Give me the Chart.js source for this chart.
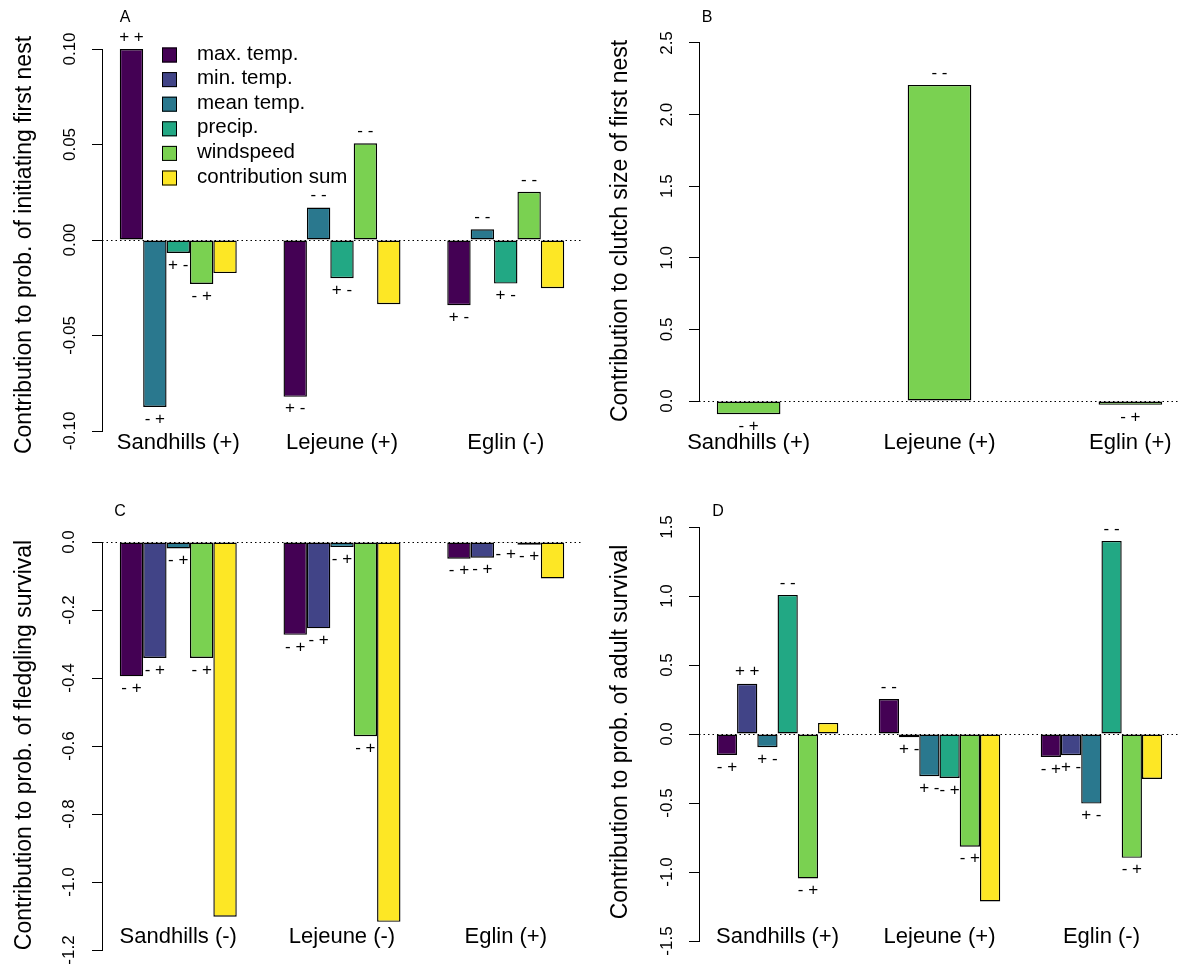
<!DOCTYPE html>
<html>
<head>
<meta charset="utf-8">
<script src="https://cdn.jsdelivr.net/npm/chart.js@4.4.1/dist/chart.umd.min.js"></script>
<style>
  html, body { margin: 0; padding: 0; background: #fff; overflow: hidden; }
  #page { position: relative; width: 1179px; height: 968px; overflow: hidden; background: #fff; }
  canvas { position: absolute; }
</style>
</head>
<body>
<div id="page">
  <canvas id="chartA" width="590" height="484" style="left:0px;top:0px"></canvas>
  <canvas id="chartB" width="600" height="484" style="left:590px;top:0px"></canvas>
  <canvas id="chartC" width="590" height="484" style="left:0px;top:484px"></canvas>
  <canvas id="chartD" width="600" height="484" style="left:590px;top:484px"></canvas>
</div>
<script>
const FONT = '"Liberation Sans", Arial, Helvetica, sans-serif';

// series shared by all panels (legend order)
const seriesNames = ['max. temp.', 'min. temp.', 'mean temp.', 'precip.', 'windspeed', 'contribution sum'];
const seriesColors = ['#440154', '#414487', '#2A788E', '#22A884', '#7AD151', '#FDE725'];

// --- A: prob. of initiating first nest ---
const sitesA = ['Sandhills (+)', 'Lejeune (+)', 'Eglin (-)'];
const maxTempA  = [0.1000, -0.0821, -0.0341];
const meanTempA = [-0.0874, 0.0170, 0.0056];
const precipA   = [-0.0068, -0.0200, -0.0228];
const windA     = [-0.0230, 0.0506, 0.0252];
const sumA      = [-0.0173, -0.0336, -0.0252];
const maxTempSignsA  = ['+ +', '+ -', '+ -'];
const meanTempSignsA = ['- +', '- -', '- -'];
const precipSignsA   = ['+ -', '+ -', '+ -'];
const windSignsA     = ['- +', '- -', '- -'];
const ticksA = [-0.10, -0.05, 0, 0.05, 0.10];
const tickLabelsA = ['-0.10', '-0.05', '0.00', '0.05', '0.10'];

// --- B: clutch size of first nest ---
const sitesB = ['Sandhills (+)', 'Lejeune (+)', 'Eglin (+)'];
const windB = [-0.092, 2.207, -0.027];
const windSignsB = ['- +', '- -', '- +'];
const ticksB = [0, 0.5, 1, 1.5, 2, 2.5];
const tickLabelsB = ['0.0', '0.5', '1.0', '1.5', '2.0', '2.5'];

// --- C: prob. of fledgling survival ---
const sitesC = ['Sandhills (-)', 'Lejeune (-)', 'Eglin (+)'];
const maxTempC  = [-0.395, -0.273, -0.049];
const minTempC  = [-0.341, -0.254, -0.046];
const meanTempC = [-0.019, -0.015, -0.002];
const windC     = [-0.341, -0.571, -0.008];
const sumC      = [-1.102, -1.117, -0.107];
const maxTempSignsC  = ['- +', '- +', '- +'];
const minTempSignsC  = ['- +', '- +', '- +'];
const meanTempSignsC = ['- +', '- +', '- +'];
const windSignsC     = ['- +', '- +', '- +'];
const ticksC = [-1.2, -1.0, -0.8, -0.6, -0.4, -0.2, 0];
const tickLabelsC = ['-1.2', '-1.0', '-0.8', '-0.6', '-0.4', '-0.2', '0.0'];

// --- D: prob. of adult survival ---
const sitesD = ['Sandhills (+)', 'Lejeune (+)', 'Eglin (-)'];
const maxTempD  = [-0.152, 0.253, -0.166];
const minTempD  = [0.364, -0.024, -0.154];
const meanTempD = [-0.096, -0.306, -0.504];
const precipD   = [1.008, -0.318, 1.399];
const windD     = [-1.047, -0.817, -0.897];
const sumD      = [0.080, -1.213, -0.326];
const maxTempSignsD  = ['- +', '- -', '- +'];
const minTempSignsD  = ['+ +', '+ -', '+ -'];
const meanTempSignsD = ['+ -', '+ -', '+ -'];
const precipSignsD   = ['- -', '- +', '- -'];
const windSignsD     = ['- +', '- +', '- +'];
const ticksD = [-1.5, -1.0, -0.5, 0, 0.5, 1.0, 1.5];
const tickLabelsD = ['-1.5', '-1.0', '-0.5', '0.0', '0.5', '1.0', '1.5'];

// zero line, y axis line, +/- labels, panel letter and legend
const decorPlugin = {
  id: 'decor',
  beforeDatasetsDraw(chart, args, opts) {
    const { ctx, chartArea } = chart;
    const yScale = chart.scales.y;
    const zero = Math.round(yScale.getPixelForValue(0) - 0.5) + 0.5;
    ctx.save();
    ctx.strokeStyle = '#000';
    ctx.lineWidth = 1;
    ctx.setLineDash([1.5, 3]);
    ctx.beginPath();
    ctx.moveTo(chartArea.left, zero);
    ctx.lineTo(chartArea.right, zero);
    ctx.stroke();

    // R style axis: the line only spans first to last tick
    ctx.setLineDash([]);
    const t = yScale.ticks;
    const x = Math.round(chartArea.left - 0.5) + 0.5;
    const y1 = Math.round(yScale.getPixelForValue(t[0].value) - 0.5) + 0.5;
    const y2 = Math.round(yScale.getPixelForValue(t[t.length - 1].value) - 0.5) + 0.5;
    ctx.beginPath();
    ctx.moveTo(x, Math.max(y1, y2) + 0.5);
    ctx.lineTo(x, Math.min(y1, y2) - 0.5);
    ctx.stroke();
    ctx.restore();
  },
  afterDatasetsDraw(chart, args, opts) {
    const ctx = chart.ctx;
    ctx.save();
    ctx.fillStyle = '#000';
    ctx.textAlign = 'center';
    ctx.textBaseline = 'middle';

    ctx.font = '17px ' + FONT;
    chart.data.datasets.forEach((ds, di) => {
      if (!ds.signs) return;
      const meta = chart.getDatasetMeta(di);
      meta.data.forEach((bar, i) => {
        const v = ds.data[i].y;
        const y = v >= 0 ? bar.y - 12 : bar.y + 12;
        ctx.fillText(ds.signs[i], bar.x, y);
      });
    });

    ctx.font = '16px ' + FONT;
    ctx.fillText(opts.letter, opts.letterX, opts.letterY);

    if (opts.legend) {
      const lg = opts.legend;
      ctx.font = '20.5px ' + FONT;
      ctx.textAlign = 'left';
      ctx.lineWidth = 1;
      ctx.strokeStyle = '#000';
      seriesNames.forEach((name, i) => {
        const cy = lg.y + i * lg.step;
        ctx.fillStyle = seriesColors[i];
        ctx.fillRect(lg.x, cy - 7.5, 15, 15);
        ctx.strokeRect(lg.x + 0.5, cy - 7, 14, 14);
        ctx.fillStyle = '#000';
        ctx.fillText(name, lg.x + 35, cy - 1);
      });
    }
    ctx.restore();
  }
};

function buildPanel(p) {
  const canvas = document.getElementById(p.id);
  const ctx = canvas.getContext('2d');
  const n = p.series.length;
  // barplot: n bars per site, 2 bar widths between sites, xlim widened by 4%
  const pad = 0.04 * (3 * n + 4);
  const half = (n / 2 + pad) / (n + 2);

  // value <-> page pixel mapping
  const [[v0, px0], [v1, px1]] = p.yCal;
  const valueAt = px => v0 + (px - px0) * (v1 - v0) / (px1 - px0);
  // chart area is placed so the centred axis title sits where it does in the figure
  const areaBottom = p.area.bottom;
  const areaTop = 2 * p.titleMid - areaBottom;

  ctx.font = '17px ' + FONT;
  const widest = Math.max(...p.tickLabels.map(t => ctx.measureText(t).width));
  const areaLeft = p.area.left - p.box.left;
  const tickLen = 10;

  return new Chart(ctx, {
    type: 'bar',
    data: {
      datasets: p.series.map(s => ({
        label: seriesNames[s.idx],
        data: s.values.map((v, i) => ({ x: i, y: v })),
        signs: s.signs,
        backgroundColor: seriesColors[s.idx],
        borderColor: '#000',
        borderWidth: 1.4,
        borderSkipped: false,
        categoryPercentage: n / (n + 2),
        barPercentage: 1,
        clip: false
      }))
    },
    options: {
      responsive: false,
      animation: false,
      devicePixelRatio: 1,
      events: [],
      layout: {
        padding: {
          left: 0,
          top: areaTop - p.box.top,
          right: p.box.left + p.box.width - p.area.right,
          bottom: 0
        }
      },
      plugins: {
        legend: { display: false },
        tooltip: { enabled: false },
        decor: {
          letter: p.letter,
          letterX: p.letterPos[0] - p.box.left,
          letterY: p.letterPos[1] - p.box.top,
          legend: p.legend || null
        }
      },
      scales: {
        x: {
          type: 'linear',
          min: -half,
          max: 2 + half,
          offset: false,
          grid: { display: false, drawTicks: false },
          border: { display: false },
          afterBuildTicks: sc => { sc.ticks = p.sites.map((_, i) => ({ value: i })); },
          afterFit: sc => { sc.height = p.box.top + p.box.height - areaBottom; },
          ticks: {
            autoSkip: false,
            minRotation: 0,
            maxRotation: 0,
            padding: p.nameCenter - areaBottom - 0.6 * 22,
            color: '#000',
            font: { family: FONT, size: 22 },
            callback: v => p.sites[v]
          }
        },
        y: {
          type: 'linear',
          min: valueAt(areaBottom),
          max: valueAt(areaTop),
          grid: { drawOnChartArea: false, drawTicks: true, tickLength: tickLen, color: '#000', lineWidth: 1 },
          border: { display: false },
          afterBuildTicks: sc => { sc.ticks = p.ticks.map(v => ({ value: v })); },
          afterFit: sc => { sc.width = areaLeft; },
          ticks: {
            autoSkip: false,
            minRotation: 90,
            maxRotation: 90,
            crossAlign: 'center',
            padding: areaLeft - (p.tickCenter - p.box.left) - tickLen - widest / 2,
            color: '#000',
            font: { family: FONT, size: 17 },
            callback: (v, i) => p.tickLabels[i]
          },
          title: {
            display: true,
            text: p.title,
            color: '#000',
            font: { family: FONT, size: 23 },
            padding: { top: p.titleCenter - p.box.left - 0.6 * 23, bottom: 0 }
          }
        }
      }
    },
    plugins: [decorPlugin]
  });
}

buildPanel({
  id: 'chartA', letter: 'A', letterPos: [125, 18],
  title: 'Contribution to prob. of initiating first nest',
  sites: sitesA,
  series: [
    { idx: 0, values: maxTempA, signs: maxTempSignsA },
    { idx: 2, values: meanTempA, signs: meanTempSignsA },
    { idx: 3, values: precipA, signs: precipSignsA },
    { idx: 4, values: windA, signs: windSignsA },
    { idx: 5, values: sumA, signs: null }
  ],
  ticks: ticksA, tickLabels: tickLabelsA,
  yCal: [[0.10, 49], [-0.10, 431]],
  box: { left: 0, top: 0, width: 590, height: 484 },
  area: { left: 102, right: 582, bottom: 431 },
  titleMid: 245, titleCenter: 25, tickCenter: 70, nameCenter: 443,
  legend: { x: 162, y: 55, step: 24.6 }
});

buildPanel({
  id: 'chartB', letter: 'B', letterPos: [707, 18],
  title: 'Contribution to clutch size of first nest',
  sites: sitesB,
  series: [
    { idx: 4, values: windB, signs: windSignsB }
  ],
  ticks: ticksB, tickLabels: tickLabelsB,
  yCal: [[2.5, 43], [0, 401]],
  box: { left: 590, top: 0, width: 600, height: 484 },
  area: { left: 699, right: 1180, bottom: 430 },
  titleMid: 231, titleCenter: 621, tickCenter: 667, nameCenter: 443
});

buildPanel({
  id: 'chartC', letter: 'C', letterPos: [120, 512],
  title: 'Contribution to prob. of fledgling survival',
  sites: sitesC,
  series: [
    { idx: 0, values: maxTempC, signs: maxTempSignsC },
    { idx: 1, values: minTempC, signs: minTempSignsC },
    { idx: 2, values: meanTempC, signs: meanTempSignsC },
    { idx: 4, values: windC, signs: windSignsC },
    { idx: 5, values: sumC, signs: null }
  ],
  ticks: ticksC, tickLabels: tickLabelsC,
  yCal: [[0, 542], [-1.2, 950]],
  box: { left: 0, top: 484, width: 590, height: 484 },
  area: { left: 102, right: 582, bottom: 926 },
  titleMid: 745, titleCenter: 25, tickCenter: 69.5, nameCenter: 937
});

buildPanel({
  id: 'chartD', letter: 'D', letterPos: [718, 512],
  title: 'Contribution to prob. of adult survival',
  sites: sitesD,
  series: [
    { idx: 0, values: maxTempD, signs: maxTempSignsD },
    { idx: 1, values: minTempD, signs: minTempSignsD },
    { idx: 2, values: meanTempD, signs: meanTempSignsD },
    { idx: 3, values: precipD, signs: precipSignsD },
    { idx: 4, values: windD, signs: windSignsD },
    { idx: 5, values: sumD, signs: null }
  ],
  ticks: ticksD, tickLabels: tickLabelsD,
  yCal: [[1.5, 527], [-1.5, 941]],
  box: { left: 590, top: 484, width: 600, height: 484 },
  area: { left: 699, right: 1180, bottom: 926 },
  titleMid: 732, titleCenter: 621, tickCenter: 667, nameCenter: 937
});
</script>
</body>
</html>
